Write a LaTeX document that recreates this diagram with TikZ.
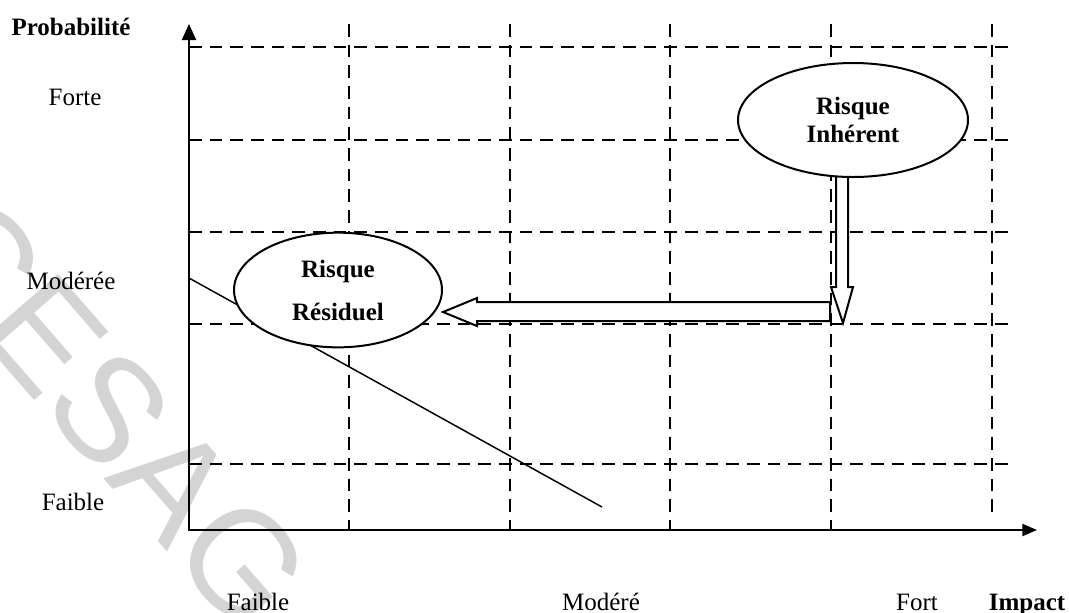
\documentclass[tikz,border=0pt]{standalone}
\usepackage{fontspec}
\setmainfont{Liberation Serif}
\newfontfamily\wmfont{Liberation Sans}
\usetikzlibrary{shapes.geometric,arrows.meta,calc}

\begin{document}
\begin{tikzpicture}[x=0.75pt,y=-0.75pt,
  gridline/.style={line width=2.1pt, dash pattern=on 9.5pt off 6pt},
  axisline/.style={line width=1.6pt},
  lbl/.style={font=\fontsize{18.75}{21}\selectfont, inner sep=0pt, anchor=base},
  blbl/.style={lbl, font=\fontsize{18.75}{21}\selectfont\bfseries},
  risk/.style={ellipse, draw, fill=white, line width=1.5pt, inner sep=0pt,
    align=center, font=\fontsize{18.75}{21}\selectfont\bfseries},
  hollow/.style={draw, fill=white, line width=1.5pt, line join=miter}
]
% page
\fill[white] (0,0) rectangle (1069,612);
\useasboundingbox (0,0) rectangle (1069,612);

% watermark
\node[text=black!17, font=\wmfont\fontsize{110}{110}\selectfont, rotate=-49,
  inner sep=0pt] (wm) at (112,412) {CESAG};

% dashed grid
\foreach \y in {47,140,232,324,464}
  \draw[gridline] (189,\y) -- (1013,\y);
\foreach \x in {349,510,670,831}
  \draw[gridline] (\x,24) -- (\x,530);
\draw[gridline] (992,24) -- (992,518);

% axes
\coordinate (O) at (189,530);
\coordinate (ytip) at (189,24);
\coordinate (xtip) at (1037,530);
\draw[axisline, {Triangle[length=12pt,width=10.5pt]}-{Triangle[length=11pt,width=9pt]}]
  (ytip) -- (O) -- (xtip);

% tolerance line
\coordinate (d1) at (189,278);
\coordinate (d2) at (602,507);
\draw[line width=1.1pt] (d1) -- (d2);

% hollow arrows
\coordinate (vtip) at (843,323);
\draw[hollow] ($(vtip)+(-7,-153)$) -- ($(vtip)+(-7,-36)$) -- ($(vtip)+(-12,-36)$)
  -- (vtip) -- ($(vtip)+(10,-36)$) -- ($(vtip)+(5,-36)$) -- ($(vtip)+(5,-153)$);
\coordinate (htip) at (443,312);
\draw[hollow] (htip) -- ++(34,-14) -- ++(0,4) -- ++(353,0) -- ++(0,19)
  -- ++(-353,0) -- ++(0,5) -- cycle;

% risk ellipses
\node[risk, minimum width=172.5pt, minimum height=85.5pt] (inh) at (853,120)
  {Risque\\Inhérent};
\node[risk, minimum width=156pt, minimum height=86pt,
  font=\fontsize{18.75}{32.25}\selectfont\bfseries] (res) at (338,290)
  {Risque\\Résiduel};

% axis labels
\node[blbl] (prob) at (71,35) {Probabilité};
\node[lbl] (pforte) at (75,105) {Forte};
\node[lbl] (pmod) at (71,289) {Modérée};
\node[lbl] (pfaible) at (73,510) {Faible};
\node[lbl] (ifaible) at (258,610) {Faible};
\node[lbl] (imod) at (601,610) {Modéré};
\node[lbl] (ifort) at (917,610) {Fort};
\node[blbl] (impact) at (1027,610) {Impact};
\end{tikzpicture}
\end{document}
